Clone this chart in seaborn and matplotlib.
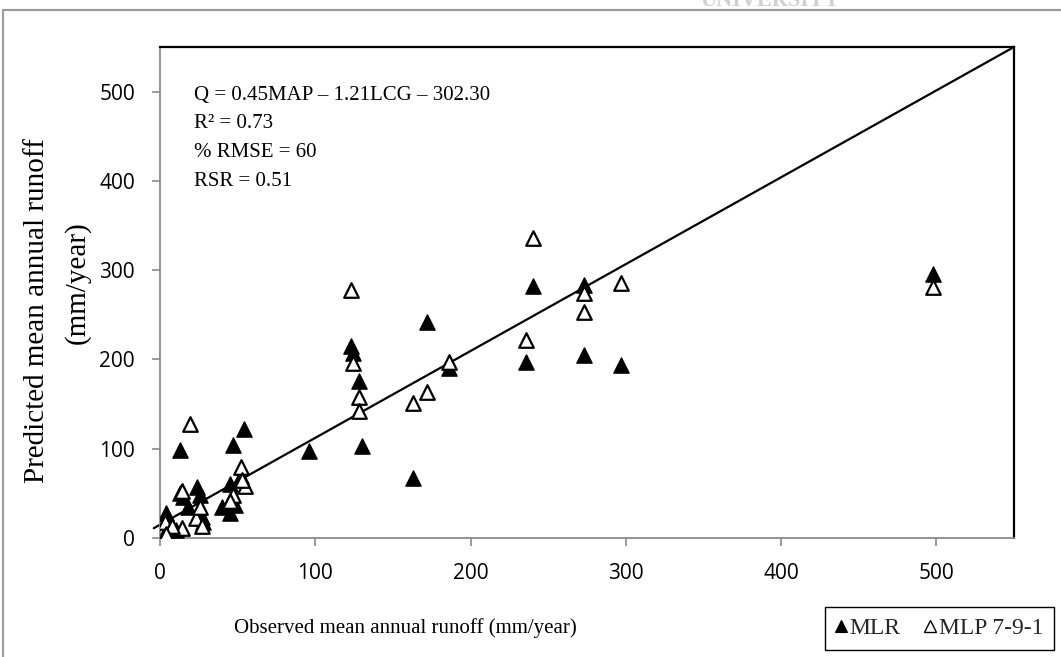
import matplotlib
matplotlib.use("Agg")
import matplotlib.pyplot as plt
import seaborn as sns
import pandas as pd
from matplotlib.lines import Line2D
from matplotlib.patches import Rectangle

# ---------------- data ----------------
mlr_obs = [498, 297, 273, 273, 240, 236, 186, 172, 163, 130, 128, 123, 124, 96,
           54, 47, 52, 45, 48, 45, 40, 13, 13, 15, 18, 24, 26, 28, 27, 4, 3, 6, 10, 5]
mlr_pred = [296, 194, 205, 283, 282, 197, 190, 242, 67, 103, 176, 215, 207, 97,
            122, 104, 70, 60, 37, 28, 35, 99, 50, 46, 35, 57, 48, 18, 24, 28, 5, 2, 9, 12]

mlp_obs = [498, 297, 273, 273, 240, 236, 186, 172, 163, 128, 128, 123, 124,
           55, 52, 53, 47, 45, 19, 14, 23, 27, 26, 3, 14, 8, 4]
mlp_pred = [281, 286, 274, 253, 336, 222, 197, 163, 151, 158, 142, 278, 196,
            58, 80, 65, 48, 42, 128, 53, 22, 13, 35, 18, 11, 14, 4]

fit_x = [-4, 550]
fit_y = [11, 550]

x_ticks = [0, 100, 200, 300, 400, 500]
y_ticks = [0, 100, 200, 300, 400, 500]

equation_lines = ["Q = 0.45MAP \u2013 1.21LCG \u2013 302.30",
                  "R\u00b2 = 0.73",
                  "% RMSE = 60",
                  "RSR = 0.51"]
series_labels = ["MLR", "MLP 7-9-1"]
x_label = "Observed mean annual runoff (mm/year)"
y_label_1 = "Predicted mean annual runoff"
y_label_2 = "(mm/year)"
watermark = "UNIVERSITY"

mlr_df = pd.DataFrame({"obs": mlr_obs, "pred": mlr_pred})
mlp_df = pd.DataFrame({"obs": mlp_obs, "pred": mlp_pred})
fit_df = pd.DataFrame({"x": fit_x, "y": fit_y})

# ---------------- style ----------------
sns.set_theme(style="white")
plt.rcParams["font.family"] = ["Open Sans", "DejaVu Sans"]
SERIF = ["Liberation Serif", "DejaVu Serif"]
GRAY = "#8a8a8a"

W, H = 1061, 657
fig = plt.figure(figsize=(W / 100, H / 100), dpi=100)
fig.patch.set_facecolor("white")

# axes placement (pixel based)
left, right, top, bottom = 160, 1014, 47, 538
ax = fig.add_axes([left / W, 1 - bottom / H, (right - left) / W, (bottom - top) / H])

sns.lineplot(data=fit_df, x="x", y="y", ax=ax, color="black", linewidth=1.6,
             clip_on=False, zorder=2)
sns.scatterplot(data=mlr_df, x="obs", y="pred", ax=ax, marker="^", s=120,
                color="black", edgecolor="black", linewidth=1.0, zorder=3)
sns.scatterplot(data=mlp_df, x="obs", y="pred", ax=ax, marker="^", s=110,
                color="white", edgecolor="black", linewidth=1.6, zorder=4)

ax.set_xlim(0, 550)
ax.set_ylim(0, 550)
ax.set_xticks(x_ticks)
ax.set_yticks(y_ticks)
ax.set_xlabel("")
ax.set_ylabel("")
ax.tick_params(axis="both", which="both", direction="out", length=6, width=1.2,
               color=GRAY, labelsize=15, labelcolor="black", pad=12)
ax.tick_params(axis="x", bottom=True)
ax.tick_params(axis="y", left=True)

for s in ["left", "bottom"]:
    ax.spines[s].set_color(GRAY)
    ax.spines[s].set_linewidth(1.3)
for s in ["top", "right"]:
    ax.spines[s].set_color("black")
    ax.spines[s].set_linewidth(1.6)
    ax.spines[s].set_visible(True)

# equation block
eq_x = (194 - left) / (right - left)
for i, line in enumerate(equation_lines):
    py = 100 + i * 28.5
    ax.text(eq_x, (bottom - py) / (bottom - top), line, transform=ax.transAxes,
            ha="left", va="baseline", fontsize=15, family=SERIF, color="black")

# axis labels
fig.text(405 / W, 1 - 628 / H, x_label, ha="center", va="center",
         fontsize=15, family=SERIF, color="black")
fig.text(37 / W, 1 - 311 / H, y_label_1, ha="center", va="center", rotation=90,
         fontsize=21, family=SERIF, color="black")
fig.text(77 / W, 1 - 283 / H, y_label_2, ha="center", va="center", rotation=90,
         fontsize=21, family=SERIF, color="black")

# legend
handles = [
    Line2D([], [], linestyle="none", marker="^", markersize=8,
           markerfacecolor="black", markeredgecolor="black", markeredgewidth=0.8),
    Line2D([], [], linestyle="none", marker="^", markersize=8,
           markerfacecolor="white", markeredgecolor="black", markeredgewidth=1.0),
]
leg = fig.legend(handles, series_labels, loc="upper left",
                 bbox_to_anchor=(825 / W, 1 - 607 / H), bbox_transform=fig.transFigure,
                 ncol=2, frameon=True, fancybox=False, shadow=False, framealpha=1,
                 edgecolor="black", borderpad=0.45, handlelength=0.45,
                 handletextpad=0.15, columnspacing=1.0, borderaxespad=0,
                 prop={"family": SERIF, "size": 17})
leg.get_frame().set_linewidth(1.0)

# outer page border and watermark from the scan
fig.patches.append(Rectangle((3 / W, -0.2), 1.2, 1.2 - 10 / H,
                             transform=fig.transFigure, fill=False,
                             edgecolor="#9a9a9a", linewidth=1.5, zorder=0))
fig.text(770 / W, 1 - 1 / H, watermark, ha="center", va="center", fontsize=16,
         family=SERIF, color="#d0d0d0", fontweight="bold", zorder=0)

fig.savefig("out.png", dpi=100)
